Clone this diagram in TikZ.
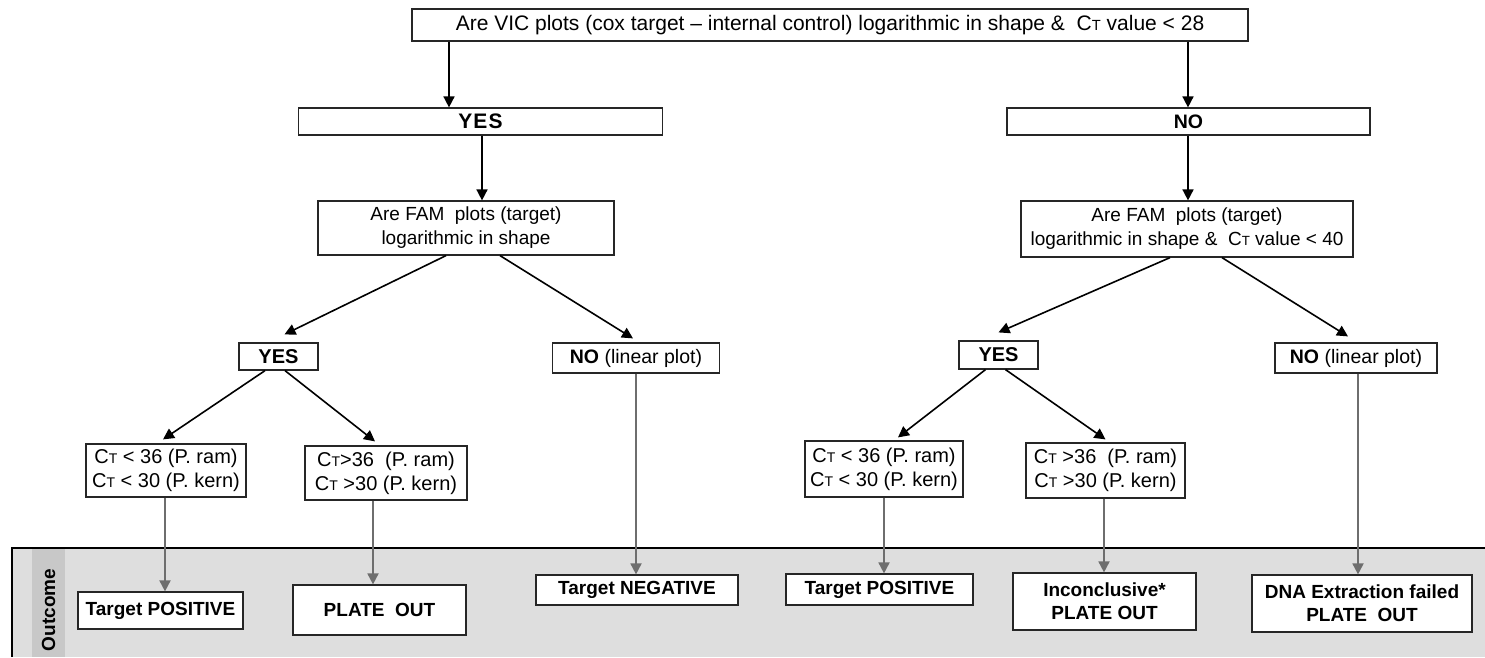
\documentclass[tikz,border=0pt]{standalone}
\usepackage{fontspec}
\setmainfont{Liberation Sans}
\usetikzlibrary{arrows.meta,calc}
\definecolor{bandgray}{HTML}{DEDEDE}
\definecolor{stripgray}{HTML}{C8C8C8}
\definecolor{arrgray}{HTML}{6E6E6E}
\definecolor{boxline}{HTML}{262626}
\newcommand{\CTx}{C{\fontsize{0.7\fontdimen6\font}{1em}\selectfont T}}
\begin{document}
\begin{tikzpicture}[x=1pt,y=-1pt,
  box/.style={draw=boxline,line width=1.2pt,fill=white,inner sep=0pt,align=center,font=\fontsize{20}{24}\selectfont},
  nbox/.style={box,font=\fontsize{19.5}{24}\selectfont},
  fbox/.style={box,font=\fontsize{19}{24}\selectfont},
  bbox/.style={box,font=\fontsize{19}{23}\selectfont\bfseries},
  arr/.style={draw=black,line width=1.6pt,-{Triangle[length=11pt,width=11pt]}},
  garr/.style={draw=arrgray,line width=1.8pt,-{Triangle[length=11pt,width=11pt]}}]
\useasboundingbox (0,0) rectangle (1485,657);
\fill[white] (0,0) rectangle (1485,657);
% outcome band
\fill[bandgray] (12,548) rectangle (1485,657);
\fill[stripgray] (32,549) rectangle (65,657);
\draw[line width=1.2pt] (12,657) -- (12,548) -- (1485,548);
\node[rotate=90,font=\fontsize{19}{22}\selectfont\bfseries] (outc) at (48.5,610) {Outcome};
% nodes
\node[box,font=\fontsize{21}{25}\selectfont,minimum width=836pt,minimum height=32pt] (top) at (830,25) {Are VIC plots (cox target -- internal control) logarithmic in shape \&\ \ \CTx{} value < 28};
\node[bbox,font=\fontsize{21}{25}\selectfont\bfseries,minimum width=364pt,minimum height=27pt] (yes1) at (480.5,121.5) {Y\kern1ptE\kern1ptS};
\node[bbox,font=\fontsize{19.5}{24}\selectfont\bfseries,minimum width=363pt,minimum height=27pt] (no1) at (1188.5,121.5) {NO};
\node[fbox,minimum width=296pt,minimum height=54pt] (famL) at (466,228) {Are FAM\ \ plots (target)\\logarithmic in shape};
\node[fbox,minimum width=332pt,minimum height=56pt] (famR) at (1187,229) {Are FAM\ \ plots (target)\\logarithmic in shape \&\ \ \CTx{} value < 40};
\node[bbox,font=\fontsize{20}{24}\selectfont\bfseries,minimum width=79pt,minimum height=27pt] (yes2L) at (278.5,356.5) {YES};
\node[nbox,minimum width=167pt,minimum height=30pt] (no2L) at (636,358) {\textbf{NO} (linear plot)};
\node[bbox,font=\fontsize{20}{24}\selectfont\bfseries,minimum width=79pt,minimum height=28pt] (yes2R) at (998.5,355) {YES};
\node[nbox,minimum width=162pt,minimum height=30pt] (no2R) at (1356,358) {\textbf{NO} (linear plot)};
\node[box,minimum width=160pt,minimum height=53pt] (c1) at (166,470.5) {\CTx{} < 36 (P. ram)\\\CTx{} < 30 (P. kern)};
\node[box,minimum width=162pt,minimum height=54pt] (c2) at (386,473) {\CTx{}>36\ \ (P. ram)\\\CTx{} >30 (P. kern)};
\node[box,minimum width=158pt,minimum height=56pt] (c3) at (884,469) {\CTx{} < 36 (P. ram)\\\CTx{} < 30 (P. kern)};
\node[box,minimum width=159pt,minimum height=55pt] (c4) at (1105.5,470.5) {\CTx{} >36\ \ (P. ram)\\\CTx{} >30 (P. kern)};
\node[bbox,minimum width=165pt,minimum height=37pt] (o1) at (160.5,610.5) {Target POSITIVE};
\node[bbox,minimum width=173pt,minimum height=50pt] (o2) at (379.5,610) {PLATE\ \ OUT};
\node[bbox,minimum width=202pt,minimum height=30pt] (o3) at (637,590) {Target NEGATIVE};
\node[bbox,minimum width=187pt,minimum height=31pt] (o4) at (879.5,589.5) {Target POSITIVE};
\node[bbox,minimum width=183pt,minimum height=57pt] (o5) at (1104.5,601.5) {Inconclusive*\\PLATE OUT};
\node[bbox,minimum width=220pt,minimum height=57pt] (o6) at (1362,603.5) {DNA Extraction failed\\PLATE\ \ OUT};
% helper x positions
\coordinate (xa) at (449,0);
\coordinate (xb) at (482,0);
\coordinate (xc) at (373,0);
\coordinate (xd) at (1188,0);
\coordinate (xe) at (165,0);
\coordinate (xf) at (1104,0);
\coordinate (xg) at (1358,0);
% black arrows
\draw[arr] (top.south -| xa) -- (yes1.north -| xa);
\draw[arr] (top.south -| xd) -- (no1.north -| xd);
\draw[arr] (yes1.south -| xb) -- (famL.north -| xb);
\draw[arr] (no1.south -| xd) -- (famR.north -| xd);
\draw[arr] ($(famL.south)+(-20,0)$) -- ($(yes2L.north)+(6,-8)$);
\draw[arr] ($(famL.south)+(34,0)$) -- ($(no2L.north)+(-3,-4)$);
\draw[arr] ($(famR.south)+(-17,0)$) -- ($(yes2R.north)+(0,-8)$);
\draw[arr] ($(famR.south)+(35,0)$) -- ($(no2R.north)+(-8,-6)$);
\draw[arr] ($(yes2L.south)+(-13.5,0)$) -- ($(c1.north)+(-3,-4)$);
\draw[arr] ($(yes2L.south)+(6.5,0)$) -- ($(c2.north)+(-11,-4)$);
\draw[arr] ($(yes2R.south)+(-13,0)$) -- ($(c3.north)+(14,-3)$);
\draw[arr] ($(yes2R.south)+(7,0)$) -- ($(c4.north)+(0,-3)$);
% gray arrows
\draw[garr] (c1.south -| xe) -- (o1.north -| xe);
\draw[garr] (c2.south -| xc) -- (o2.north -| xc);
\draw[garr] (no2L.south) -- (no2L.south |- o3.north);
\draw[garr] (c3.south) -- (c3.south |- o4.north);
\draw[garr] (c4.south -| xf) -- (o5.north -| xf);
\draw[garr] (no2R.south -| xg) -- (o6.north -| xg);
\end{tikzpicture}
\end{document}
